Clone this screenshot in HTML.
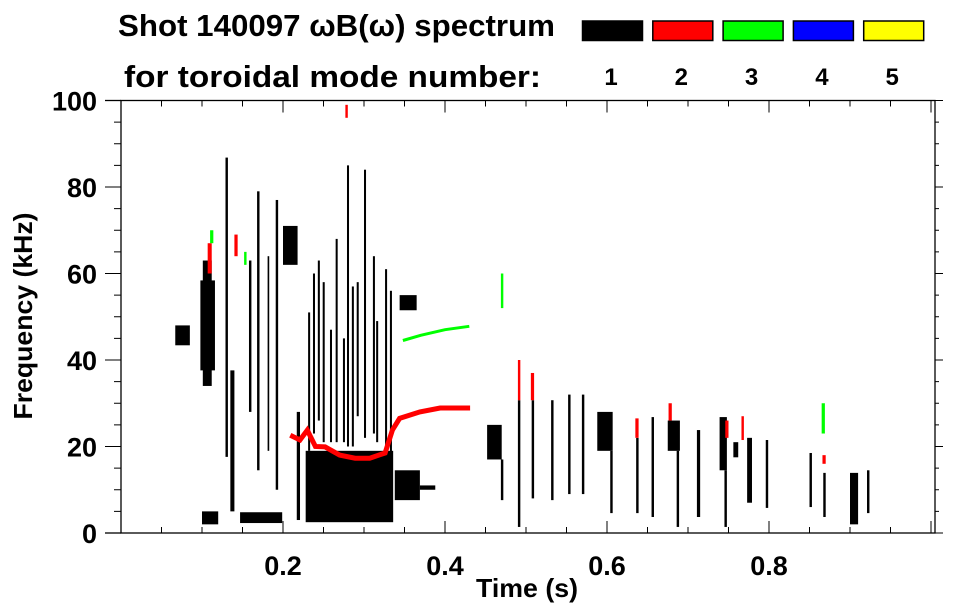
<!DOCTYPE html>
<html><head><meta charset="utf-8"><style>
html,body{margin:0;padding:0;background:#fff;}
svg{display:block;font-family:"Liberation Sans",sans-serif;font-weight:bold;}
</style></head><body>
<svg id="chart" width="963" height="615" viewBox="0 0 963 615">
<text x="118" y="36" font-size="31" textLength="437" lengthAdjust="spacingAndGlyphs">Shot 140097 ωB(ω) spectrum</text>
<text x="124" y="87" font-size="31" textLength="417" lengthAdjust="spacingAndGlyphs">for toroidal mode number:</text>
<g id="legend"></g>
<g id="marks"></g>
<g id="axes"></g>
<text x="527" y="597" font-size="26" text-anchor="middle" textLength="102" lengthAdjust="spacingAndGlyphs">Time (s)</text>
<text x="0" y="0" font-size="26" text-anchor="middle" textLength="207" lengthAdjust="spacingAndGlyphs" transform="translate(32,316) rotate(-90)">Frequency (kHz)</text>
</svg>
<script>
// data arrays
const modeNumbers = [1, 2, 3, 4, 5];
const modeColors = ["#000000", "#ff0000", "#00ff00", "#0000ff", "#ffff00"];
const xTicks = [0.2, 0.4, 0.6, 0.8];
const yTicks = [0, 20, 40, 60, 80, 100];
// rectangles: start time, end time, low freq, high freq, mode
const segT0 = [.098,.101,.067,.129,.135,.147,.168,.191,.181,.158,.2,.217,.228,.338,.369,.231,.237,.243,.249,.258,.265,.274,.279,.285,.291,.3,.311,.315,.326,.332,.344,.452,.469,.49,.507,.531,.552,.569,.588,.604,.636,.655,.675,.686,.711,.739,.745,.756,.773,.796,.85,.867,.9,.921,.1,
 .107,.14,.49,.506,.635,.676,.746,.766,.866,.277,
 .11,.152,.469,.865];
const segT1 = [.116,.112,.085,.132,.14,.199,.171,.194,.183,.161,.218,.221,.336,.369,.388,.2335,.2395,.2455,.2515,.2605,.2675,.2765,.2815,.2875,.2935,.3025,.3135,.3175,.3285,.3345,.365,.47,.472,.493,.51,.534,.555,.572,.607,.607,.639,.658,.69,.689,.715,.748,.748,.762,.779,.799,.853,.87,.91,.924,.12,
 .112,.144,.493,.51,.639,.68,.75,.769,.87,.28,
 .114,.155,.472,.869];
const segF0 = [37.6,34,43.4,17.6,5,2.3,14.5,10,19,28,62,3,2.5,7.6,10,19,23,26,21,21,21,21,20,20,27,22,23,21,17,15,51.5,17,7.6,1.4,8,7.6,9,9,19,4.6,4.6,3.7,19,1.4,3.7,14.5,1.4,17.5,7,5.8,6,3.7,2,4.6,2,
 60,64,30.7,30.7,22,26,22,21.5,16,96,
 67,62,52,23];
const segF1 = [58.4,63,48,86.8,37.6,4.8,79,77,64,63,71,28,19,14.5,11,51,60,63,58,47,68,45,85,57,58,84,64,49,61,56,55,25,17,30.7,30.7,30.7,32,32,28,19,22,26.8,26,19,23.8,26.8,14.5,21,22,21.5,18.5,13.9,13.9,14.5,5,
 67,69,40,37,26.5,30,26,27,18,99,
 70,65,60,30];
const segMode = [1,1,1,1,1,1,1,1,1,1,1,1,1,1,1,1,1,1,1,1,1,1,1,1,1,1,1,1,1,1,1,1,1,1,1,1,1,1,1,1,1,1,1,1,1,1,1,1,1,1,1,1,1,1,1,
 2,2,2,2,2,2,2,2,2,2,
 3,3,3,3];
// continuous mode traces
const redT = [.209,.221,.23,.24,.252,.27,.289,.307,.326,.335,.344,.369,.394,.431];
const redF = [22.6,21.5,23.8,20,19.9,18,17.3,17.3,18.5,23.8,26.5,28,28.9,28.9];
const greenT = [.348,.37,.4,.43];
const greenF = [44.5,45.7,47,47.8];

const NS = "http://www.w3.org/2000/svg";
const X0 = 121, X1 = 935, Y0 = 533, Y1 = 100.5;
const TMAX = (X1 - X0) / 810, FMAX = 100;
function xs(t){ return X0 + t / TMAX * (X1 - X0); }
function ys(f){ return Y0 - f / FMAX * (Y0 - Y1); }
function mk(tag, attrs, parent){
  const e = document.createElementNS(NS, tag);
  for (const k in attrs) e.setAttribute(k, attrs[k]);
  parent.appendChild(e); return e;
}
const marks = document.getElementById('marks');
for (let i = 0; i < segT0.length; i++){
  const r = mk('rect', {x: xs(segT0[i]), y: ys(segF1[i]), width: Math.max(1.5, xs(segT1[i]) - xs(segT0[i])), height: ys(segF0[i]) - ys(segF1[i]), fill: modeColors[segMode[i]-1]}, marks);
  
  
}
function trace(T, F, color, w, name){
  let d = '';
  for (let i = 0; i < T.length; i++) d += (i ? 'L' : 'M') + xs(T[i]).toFixed(1) + ',' + ys(F[i]).toFixed(1);
  const p = mk('path', {d: d, stroke: color, 'stroke-width': w, fill: 'none'}, marks);
  
  
}
trace(redT, redF, modeColors[1], 5, 'mode-2-trace');
trace(greenT, greenF, modeColors[2], 3, 'mode-3-trace');

// legend
const lg = document.getElementById('legend');
for (let i = 0; i < modeNumbers.length; i++){
  const x = 582 + i * 70.3;
  const b = mk('rect', {x: x + 0.5, y: 21, width: 60, height: 19.5, fill: modeColors[i], stroke: '#000', 'stroke-width': 1.5}, lg);
  
  
  const t = mk('text', {x: x + 29, y: 85, 'font-size': 24, 'text-anchor': 'middle'}, lg);
  t.textContent = modeNumbers[i];
  
  
}

// axes
const ax = document.getElementById('axes');
mk('rect', {x: X0, y: Y1, width: X1 - X0, height: Y0 - Y1, fill: 'none', stroke: '#000', 'stroke-width': 1.3}, ax);
mk('line', {x1: 105, y1: Y1, x2: X0, y2: Y1, stroke: '#000', 'stroke-width': 1.3}, ax);
mk('line', {x1: 105, y1: Y0, x2: X0, y2: Y0, stroke: '#000', 'stroke-width': 1.3}, ax);
for (let f = 0; f <= 100; f += 5){
  const major = f % 20 === 0;
  const y = ys(f);
  mk('line', {x1: major ? 105 : 114, y1: y, x2: X0, y2: y, stroke: '#000', 'stroke-width': 1}, ax);
  mk('line', {x1: X1, y1: y, x2: X1 + (major ? 8 : 4), y2: y, stroke: '#000', 'stroke-width': 1}, ax);
}
for (let k = 1; k * 0.05 < TMAX; k++){
  const t = k * 0.05, x = xs(t), major = k % 4 === 0;
  mk('line', {x1: x, y1: Y0, x2: x, y2: Y0 - (major ? 12 : 6), stroke: '#000', 'stroke-width': 1}, ax);
  mk('line', {x1: x, y1: Y1, x2: x, y2: Y1 + (major ? 12 : 6), stroke: '#000', 'stroke-width': 1}, ax);
}
for (const v of xTicks){
  const t = mk('text', {x: xs(v), y: 575, 'font-size': 27, 'text-anchor': 'middle'}, ax);
  t.textContent = v.toFixed(1);
  
  
}
for (const v of yTicks){
  const t = mk('text', {x: 97, y: ys(v) + 10, 'font-size': 27, 'text-anchor': 'end'}, ax);
  t.textContent = v;
  
  
}
</script>
</body></html>
